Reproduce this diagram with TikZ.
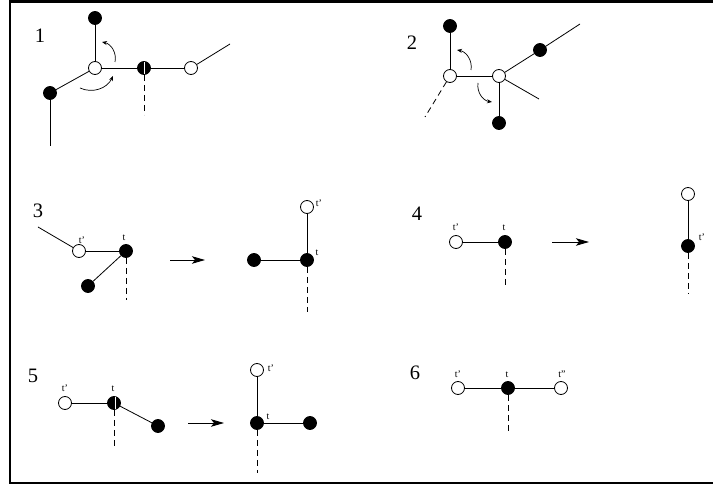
\documentclass[tikz,border=0pt]{standalone}
\usepackage{fontspec}
\setmainfont{Liberation Serif}
\usetikzlibrary{arrows.meta}
\begin{document}
\begin{tikzpicture}[x=1pt,y=-1pt,
  vtx/.style={circle,draw,line width=0.8pt,minimum size=13pt,inner sep=0pt},
  bk/.style={vtx,fill=black},
  wh/.style={vtx,fill=white},
  edge/.style={line width=0.8pt},
  dsh/.style={line width=0.8pt,dash pattern=on 6pt off 4pt},
  num/.style={font=\fontsize{20.5}{22}\selectfont,inner sep=0pt},
  lab/.style={font=\fontsize{10}{11}\selectfont,inner sep=0pt},
  mv/.style={line width=0.9pt,-{Stealth[length=13pt,width=7.5pt,inset=3pt]}},
  rot/.style={line width=0.7pt,-{Stealth[length=5pt,width=4pt]}}]
\useasboundingbox (0,0) rectangle (713,486);
\draw[line width=2.6pt] (714,1.5) -- (10,1.5) -- (10,483) -- (714,483);

% ---------- panel 1
\node[num] (n1) at (40,36) {1};
\coordinate (p1a) at (230,44);
\coordinate (p1b) at (50,146);
\coordinate (p1c) at (144,115);
\draw[dsh] (144,75) -- (p1c);
\node[bk] (p1top) at (95,18) {};
\node[wh] (p1w) at (95,68) {};
\node[bk] (p1m) at (144,68) {};
\node[wh] (p1r) at (191,68) {};
\node[bk] (p1l) at (50,93) {};
\draw[edge] (p1top) -- (p1w);
\draw[edge] (p1w) -- (p1m);
\draw[edge] (p1m) -- (p1r);
\draw[edge] (p1r) -- (p1a);
\draw[edge] (p1w) -- (p1l);
\draw[edge] (p1l) -- (p1b);
\draw[white,line width=0.8pt] (144.5,62) -- (144.5,74);
\coordinate (r1a) at (115,62);
\coordinate (r1b) at (102,42);
\coordinate (r1c) at (80,88);
\coordinate (r1d) at (113,76);
\draw[rot] (r1a) to[bend right=45] (r1b);
\draw[rot] (r1c) to[bend right=45] (r1d);

% ---------- panel 2
\node[num] (n2) at (412,43) {2};
\coordinate (p2a) at (580,24);
\coordinate (p2b) at (539,99);
\coordinate (p2c) at (425,117);
\node[bk] (p2top) at (450,26) {};
\node[wh] (p2w) at (450,76) {};
\node[wh] (p2v) at (499,76) {};
\node[bk] (p2ur) at (540,50) {};
\node[bk] (p2bot) at (499,123) {};
\draw[edge] (p2top) -- (p2w);
\draw[edge] (p2w) -- (p2v);
\draw[edge] (p2v) -- (p2ur);
\draw[edge] (p2ur) -- (p2a);
\draw[edge] (p2v) -- (p2b);
\draw[edge] (p2v) -- (p2bot);
\draw[dsh] (p2w) -- (p2c);
\coordinate (r2a) at (471,70);
\coordinate (r2b) at (457,50);
\coordinate (r2c) at (478,83);
\coordinate (r2d) at (492,102);
\draw[rot] (r2a) to[bend right=45] (r2b);
\draw[rot] (r2c) to[bend right=45] (r2d);

% ---------- panel 3
\node[num] (n3) at (38,211) {3};
\coordinate (p3a) at (38,227);
\coordinate (p3d) at (126,300);
\node[wh] (p3w) at (79,251) {};
\node[bk] (p3t) at (126,251) {};
\node[bk] (p3b) at (88,286) {};
\node[lab] (l3w) at (82,240) {t'};
\node[lab] (l3t) at (124,238) {t};
\draw[edge] (p3a) -- (p3w);
\draw[edge] (p3w) -- (p3t);
\draw[edge] (p3b) -- (p3t);
\draw[dsh] (p3t) -- (p3d);
\coordinate (a3s) at (170,260);
\coordinate (a3e) at (205,260);
\draw[mv] (a3s) -- (a3e);
\coordinate (p3e) at (307,312);
\node[bk] (q3l) at (254,260) {};
\node[bk] (q3t) at (307,260) {};
\node[wh] (q3w) at (307,207) {};
\node[lab] (m3t) at (317,253) {t};
\node[lab] (m3w) at (319,203) {t'};
\draw[edge] (q3l) -- (q3t);
\draw[edge] (q3t) -- (q3w);
\draw[dsh] (q3t) -- (p3e);

% ---------- panel 4
\node[num] (n4) at (417,214) {4};
\coordinate (p4d) at (505,288);
\node[wh] (p4w) at (456,242) {};
\node[bk] (p4t) at (505,242) {};
\node[lab] (l4w) at (456,227) {t'};
\node[lab] (l4t) at (504,228) {t};
\draw[edge] (p4w) -- (p4t);
\draw[dsh] (p4t) -- (p4d);
\coordinate (a4s) at (552,242);
\coordinate (a4e) at (589,242);
\draw[mv] (a4s) -- (a4e);
\coordinate (p4e) at (688,294);
\node[wh] (q4w) at (688,194) {};
\node[bk] (q4t) at (688,246) {};
\node[lab] (m4t) at (702,237) {t'};
\draw[edge] (q4w) -- (q4t);
\draw[dsh] (q4t) -- (p4e);

% ---------- panel 5
\node[num] (n5) at (33,376) {5};
\coordinate (p5d) at (114,449);
\draw[dsh] (114,410) -- (p5d);
\node[wh] (p5w) at (65,403) {};
\node[bk] (p5t) at (114,403) {};
\node[bk] (p5r) at (158,426) {};
\node[lab] (l5w) at (65,388) {t'};
\node[lab] (l5t) at (113,389) {t};
\draw[edge] (p5w) -- (p5t);
\draw[edge] (p5t) -- (p5r);
\draw[white,line width=0.8pt] (115,397) -- (115,409);
\coordinate (a5s) at (188,423);
\coordinate (a5e) at (224,423);
\draw[mv] (a5s) -- (a5e);
\coordinate (p5e) at (257,473);
\node[bk] (q5t) at (257,423) {};
\node[wh] (q5w) at (257,370) {};
\node[bk] (q5r) at (310,423) {};
\node[lab] (m5w) at (271,368) {t'};
\node[lab] (m5t) at (268,417) {t};
\draw[edge] (q5t) -- (q5w);
\draw[edge] (q5t) -- (q5r);
\draw[dsh] (q5t) -- (p5e);

% ---------- panel 6
\node[num] (n6) at (415,373) {6};
\coordinate (p6d) at (508,434);
\node[wh] (p6a) at (458,388) {};
\node[bk] (p6t) at (508,388) {};
\node[wh] (p6b) at (561,388) {};
\node[lab] (l6a) at (458,374) {t'};
\node[lab] (l6t) at (507,375) {t};
\node[lab] (l6b) at (562,374) {t''};
\draw[edge] (p6a) -- (p6t);
\draw[edge] (p6t) -- (p6b);
\draw[dsh] (p6t) -- (p6d);
\end{tikzpicture}
\end{document}
